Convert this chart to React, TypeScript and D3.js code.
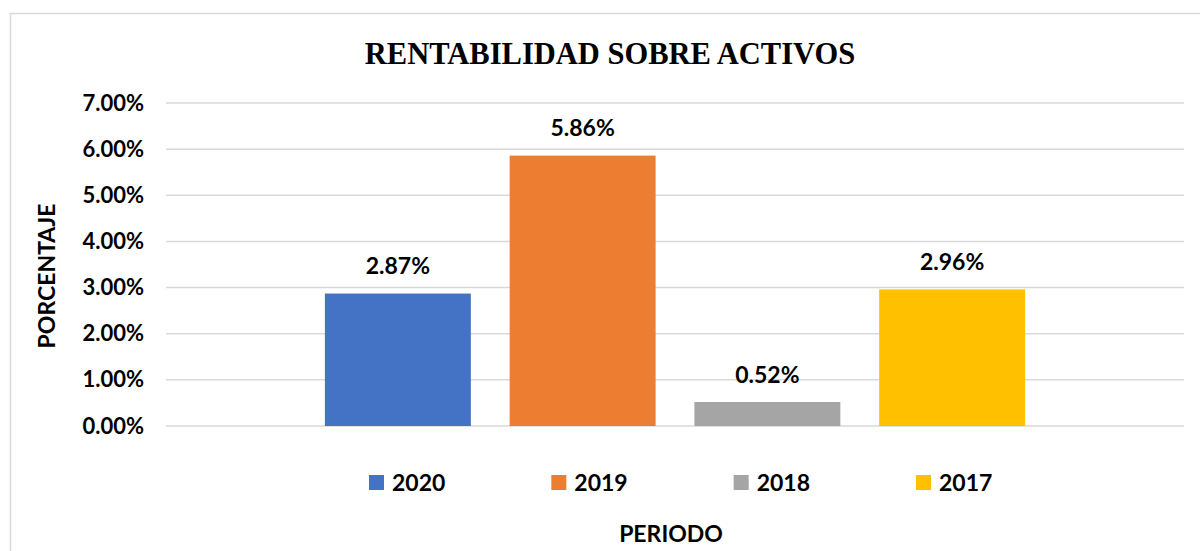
import React from "react";
import * as d3 from "d3";

const seriesNames = ["2020", "2019", "2018", "2017"];
const seriesValues = [0.0287, 0.0586, 0.0052, 0.0296];
const seriesColors = ["#4472C4", "#ED7D31", "#A5A5A5", "#FFC000"];
const yTicks = [0, 0.01, 0.02, 0.03, 0.04, 0.05, 0.06, 0.07];
const titleText = "RENTABILIDAD SOBRE ACTIVOS";
const yTitle = "PORCENTAJE";
const xTitle = "PERIODO";

const W = 1200;
const H = 551;
const plotLeft = 166;
const plotRight = 1184;
const plotTop = 103;
const plotBottom = 426;
const sans = "Lato, 'Open Sans', sans-serif";

export default function App() {
  const y = d3.scaleLinear().domain([0, 0.07]).range([plotBottom, plotTop]);
  const x = d3
    .scaleBand<string>()
    .domain(seriesNames)
    .range([plotLeft, plotRight])
    .paddingInner(0.21)
    .paddingOuter(0.86);
  const fmt = d3.format(".2%");
  const legendX = d3.scalePoint<string>().domain(seriesNames).range([369, 916]);

  return (
    <svg
      width={W}
      height={H}
      style={{ position: "absolute", left: 0, top: 0, background: "#fff" }}
    >
      <rect x={10.5} y={13.5} width={1300} height={700} fill="#fff" stroke="#d9d9d9" strokeWidth={1.5} />
      <text
        x={610}
        y={64}
        textAnchor="middle"
        fontFamily="'Liberation Serif', 'Times New Roman', serif"
        fontWeight="bold"
        fontSize={30.5}
        fill="#000"
      >
        {titleText}
      </text>
      {yTicks.map((t) => (
        <g key={t}>
          <line
            x1={plotLeft}
            x2={plotRight}
            y1={y(t)}
            y2={y(t)}
            stroke="#d9d9d9"
            strokeWidth={1.5}
          />
          <text
            x={144}
            y={y(t) + 7.5}
            textAnchor="end"
            fontFamily={sans}
            fontWeight="bold"
            fontSize={22}
            fill="#000"
          >
            {fmt(t)}
          </text>
        </g>
      ))}
      {seriesNames.map((s, i) => (
        <g key={s}>
          <rect
            x={x(s)}
            y={y(seriesValues[i])}
            width={x.bandwidth()}
            height={plotBottom - y(seriesValues[i])}
            fill={seriesColors[i]}
          />
          <text
            x={(x(s) as number) + x.bandwidth() / 2}
            y={y(seriesValues[i]) - 19.5}
            textAnchor="middle"
            fontFamily={sans}
            fontWeight="bold"
            fontSize={23}
            fill="#000"
          >
            {fmt(seriesValues[i])}
          </text>
        </g>
      ))}
      {seriesNames.map((s, i) => (
        <g key={"lg" + s}>
          <rect x={legendX(s)} y={475} width={15} height={15} fill={seriesColors[i]} />
          <text
            x={(legendX(s) as number) + 23}
            y={491}
            fontFamily={sans}
            fontWeight="bold"
            fontSize={23}
            fill="#000"
          >
            {s}
          </text>
        </g>
      ))}
      <text
        x={671}
        y={542}
        textAnchor="middle"
        fontFamily={sans}
        fontWeight="bold"
        fontSize={23}
        fill="#000"
      >
        {xTitle}
      </text>
      <text
        transform={`translate(55, 276) rotate(-90)`}
        textAnchor="middle"
        fontFamily={sans}
        fontWeight="bold"
        fontSize={23}
        fill="#000"
      >
        {yTitle}
      </text>
    </svg>
  );
}
